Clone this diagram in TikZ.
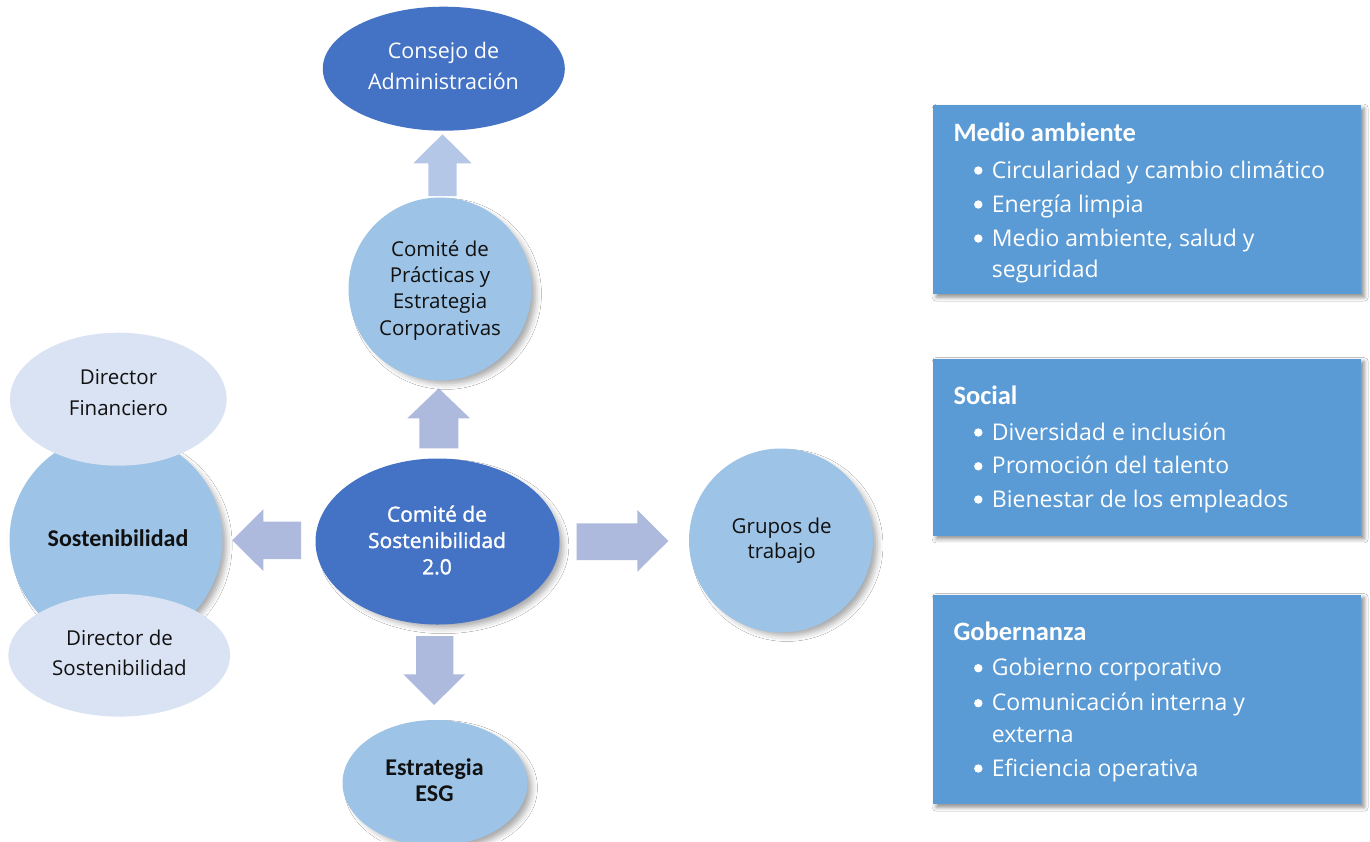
\documentclass[tikz,border=0pt]{standalone}
\usepackage{fontspec}
\setmainfont{Open Sans}
\newfontfamily\calfont{Carlito}
\newfontfamily\semfont{Open Sans}[FakeBold=1.4]
\usetikzlibrary{shapes.geometric,shadows.blur}
\definecolor{dkblue}{HTML}{4472C4}
\definecolor{midblue}{HTML}{9DC3E6}
\definecolor{paleblue}{HTML}{DAE3F3}
\definecolor{boxblue}{HTML}{5B9BD5}
\definecolor{arrowA}{HTML}{B4C7E7}
\definecolor{arrowB}{HTML}{AEB9DE}
\definecolor{ink}{HTML}{111111}
\begin{document}
\begin{tikzpicture}[x=1pt,y=-1pt,
  shade/.style={blur shadow={shadow xshift=6pt, shadow yshift=-5pt, shadow blur radius=6pt, shadow opacity=35, shadow scale=0.98}},
  ell/.style={ellipse, inner sep=0pt, draw=none},
  circ/.style={circle, inner sep=0pt, draw=none},
  infobox/.style={rectangle, fill=boxblue, inner sep=0pt, anchor=north west,
     minimum width=428pt, blur shadow={shadow xshift=3pt, shadow yshift=-3pt, shadow blur radius=4pt, shadow opacity=45}},
  lbl/.style={anchor=base, align=center, inner sep=0pt},
  regtxt/.style={lbl, text=ink, font=\fontsize{20.5}{26.3}\selectfont},
  boldtxt/.style={lbl, text=ink, font=\calfont\bfseries\fontsize{24}{26.7}\selectfont},
  ttl/.style={anchor=base west, inner sep=0pt, text=white, font=\calfont\bfseries\fontsize{26.5}{30}\selectfont},
  itm/.style={anchor=base west, inner sep=0pt, text=white, align=left, font=\fontsize{23}{31.3}\selectfont},
]
\fill[white] (0,0) rectangle (1370,841);
\useasboundingbox (0,0) rectangle (1370,841);

% block arrows
\fill[arrowA] (442.5,134.3) -- (471.7,163.3) -- (456.7,163.3) -- (456.7,196) -- (428.3,196) -- (428.3,163.3) -- (413.3,163.3) -- cycle;
\fill[arrowB] (438.7,388.3) -- (470,418.3) -- (458.3,418.3) -- (458.3,448.3) -- (419.3,448.3) -- (419.3,418.3) -- (407.3,418.3) -- cycle;
\fill[arrowB] (232.3,540.2) -- (263.3,509.3) -- (263.3,521.7) -- (301,521.7) -- (301,559) -- (263.3,559) -- (263.3,571) -- cycle;
\fill[arrowB] (668.3,541) -- (637.3,510) -- (637.3,523.3) -- (576.7,523.3) -- (576.7,560) -- (637.3,560) -- (637.3,571.7) -- cycle;
\fill[arrowB] (434.2,705) -- (465,674.3) -- (453.3,674.3) -- (453.3,636) -- (416,636) -- (416,674.3) -- (403.3,674.3) -- cycle;

% shapes
\node[ell, fill=dkblue, minimum width=242pt, minimum height=124pt] (cons) at (443.8,68.7) {};
\node[circ, fill=midblue, shade, minimum size=183pt] (prac) at (440,289) {};
\node[ell, fill=dkblue, shade, minimum width=244pt, minimum height=166pt] (csost) at (437.5,541.5) {};
\node[circ, fill=midblue, shade, minimum size=184pt] (grup) at (781,540.5) {};
\node[ell, fill=midblue, shade, minimum width=185pt, minimum height=126pt] (esg) at (435,783) {};
\node[circ, fill=midblue, shade, minimum size=213pt] (sost) at (116,540) {};
\node[ell, fill=paleblue, minimum width=216.6pt, minimum height=133pt] (dfin) at (118.3,399.2) {};
\node[ell, fill=paleblue, minimum width=221.6pt, minimum height=122.6pt] (dsost) at (119.2,655.3) {};

% texts in shapes (anchored at the baseline of the last line)
\node[lbl, text=white, font=\fontsize{21.5}{31}\selectfont] (tcons) at (443.5,89.3) {Consejo de\\Administración};
\node[regtxt] (tprac) at (440,335) {Comité de\\Prácticas y\\Estrategia\\Corporativas};
\node[lbl, text=white, font=\semfont\fontsize{21}{26.3}\selectfont] (tcsost) at (437,574.3) {Comité de\\Sostenibilidad\\2.0};
\node[regtxt, font=\fontsize{20.5}{25}\selectfont] (tgrup) at (781.7,558.3) {Grupos de\\trabajo};
\node[boldtxt] (tesg) at (434.5,801.7) {Estrategia\\ESG};
\node[boldtxt] (tsost) at (118,546.7) {Sostenibilidad};
\node[regtxt, font=\fontsize{20.5}{31.4}\selectfont] (tdfin) at (118.5,415.7) {Director\\Financiero};
\node[regtxt, font=\fontsize{20.5}{30}\selectfont] (tdsost) at (119.5,675) {Director de\\Sostenibilidad};

% info boxes
\node[infobox, minimum height=189pt] (boxma) at (933,105) {};
\node[infobox, minimum height=177.4pt] (boxso) at (933,358.3) {};
\node[infobox, minimum height=209.7pt] (boxgo) at (933,594.3) {};

\node[ttl] (tma) at (953.3,141.7) {Medio ambiente};
\node[itm] (ma1) at (991.7,178) {Circularidad y cambio climático};
\node[itm] (ma2) at (991.7,212) {Energía limpia};
\node[itm, font=\fontsize{23}{31}\selectfont] (ma3) at (991.7,277) {Medio ambiente, salud y\\seguridad};
\foreach \yy in {178,212,246} \fill[white] (978.3,\yy-7.5) circle (4.2);

\node[ttl] (tso) at (953.3,404.3) {Social};
\node[itm] (so1) at (991.7,440) {Diversidad e inclusión};
\node[itm] (so2) at (991.7,473.8) {Promoción del talento};
\node[itm] (so3) at (991.7,507) {Bienestar de los empleados};
\foreach \yy in {440,473.8,507} \fill[white] (978.3,\yy-7.5) circle (4.2);

\node[ttl] (tgo) at (953.3,640) {Gobernanza};
\node[itm] (go1) at (991.7,675.7) {Gobierno corporativo};
\node[itm, font=\fontsize{23}{31.6}\selectfont] (go2) at (991.7,742.3) {Comunicación interna y\\externa};
\node[itm] (go3) at (991.7,776) {Eficiencia operativa};
\foreach \yy in {675.7,710.7,776} \fill[white] (978.3,\yy-7.5) circle (4.2);
\end{tikzpicture}
\end{document}
